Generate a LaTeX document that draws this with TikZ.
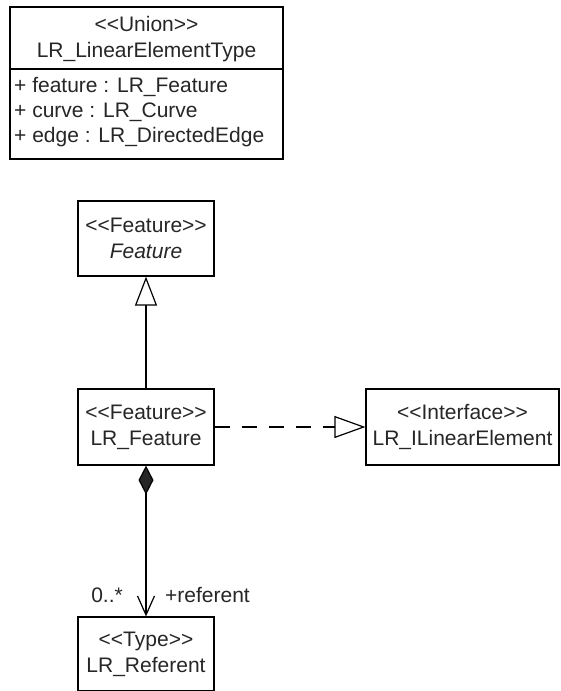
\documentclass[tikz,border=0pt]{standalone}
\usepackage{fontspec}
\setmainfont{Liberation Sans}
\usetikzlibrary{arrows.meta}
\newcommand{\llt}{<{}<}
\newcommand{\ggt}{>{}>}
\begin{document}
\begin{tikzpicture}[x=1pt,y=-1pt,
  every node/.style={font=\fontsize{21}{26}\selectfont, text=black!85},
  umlbox/.style={draw, line width=1.2pt, align=center, inner sep=0pt},
  conn/.style={line width=1.2pt},
  gen/.style={conn, -{Triangle[open, length=29pt, width=22pt, line width=1.2pt]}},
  real/.style={conn, dash pattern=on 15pt off 12pt, -{Triangle[open, length=31pt, width=22pt, line width=1.2pt]}},
  comp/.style={conn, {Diamond[length=29pt, width=15pt, fill=black!85]}-{Straight Barb[length=19pt, width=17pt, line width=1.2pt]}},
  attr/.style={anchor=west, inner sep=0pt}
]
\useasboundingbox (0,0) rectangle (561,691);

% Union box
\node[umlbox, minimum width=273pt, minimum height=152pt] (union) at (146.5,83) {};
\draw[line width=1.2pt] (10,69) coordinate (divl) -- (283,69) coordinate (divr);
\node[align=center, inner sep=0pt] (unionhead) at (146.5,39) {\llt Union\ggt\\LR\_LinearElementType};
\node[attr] (a1) at (14,87) {+ feature : LR\_Feature};
\node[attr] (a2) at (14,112) {+ curve : LR\_Curve};
\node[attr] (a3) at (14,137) {+ edge : LR\_DirectedEdge};

% Feature
\node[umlbox, minimum width=136pt, minimum height=75pt] (feature) at (146,238.5) {\llt Feature\ggt\\\textit{Feature}};
% LR_Feature
\node[umlbox, minimum width=136pt, minimum height=76pt] (lrfeature) at (146,427) {\llt Feature\ggt\\LR\_Feature};
% Interface
\node[umlbox, minimum width=193pt, minimum height=76pt] (iface) at (462.5,427) {\llt Interface\ggt\\LR\_ILinearElement};
% Referent
\node[umlbox, minimum width=136pt, minimum height=74pt] (referent) at (146,654) {\llt Type\ggt\\LR\_Referent};

% connectors
\draw[gen] (lrfeature.north) -- (feature.south);
\draw[real] (lrfeature.east) -- (iface.west);
\draw[comp] (lrfeature.south) -- (referent.north);

\node[anchor=east, inner sep=0pt] (mult) at (123,595) {0..*};
\node[anchor=west, inner sep=0pt] (role) at (165,595) {+referent};
\end{tikzpicture}
\end{document}
